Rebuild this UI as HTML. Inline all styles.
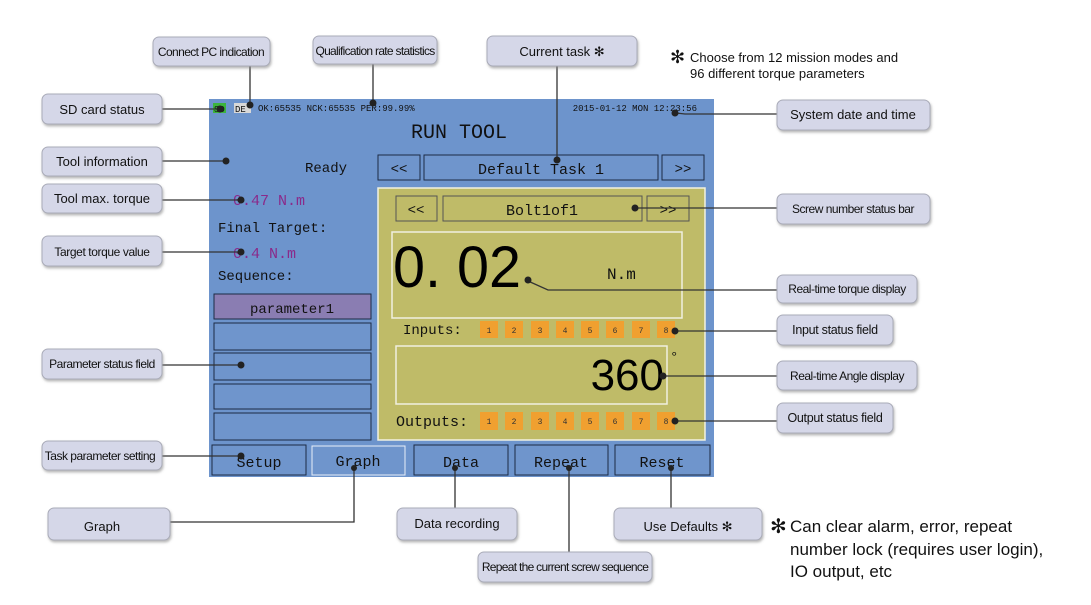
<!DOCTYPE html>
<html><head><meta charset="utf-8"><style>
html,body{margin:0;padding:0;background:#fff;width:1091px;height:605px;overflow:hidden}
svg{display:block}
.lb{fill:#d5d7e8;stroke:#a9abb8;stroke-width:1}
.lt{font-family:"Liberation Sans",sans-serif;font-size:13px;fill:#111;text-anchor:middle}
.ln{stroke:#333;stroke-width:1.3;fill:none}
.m{font-family:"Liberation Mono",monospace;fill:#111}
.bt{fill:#6f95cc;stroke:#1c2a44;stroke-width:1}
.yb{fill:#bfbb68;stroke:#555;stroke-width:1}
.sq{fill:#f0a030}
.sn{font-family:"Liberation Mono",monospace;font-size:8px;fill:#333;text-anchor:middle}
</style></head><body>
<svg width="1091" height="605" viewBox="0 0 1091 605">
<defs><filter id="sh" x="-10%" y="-20%" width="120%" height="150%"><feDropShadow dx="1" dy="2" stdDeviation="1.2" flood-color="#888" flood-opacity="0.6"/></filter></defs>

<!-- screen -->
<rect x="209" y="99" width="505" height="378" fill="#6d94cc"/>
<rect x="378" y="188" width="327" height="252" fill="#bfbb68" stroke="#f2f2e0" stroke-width="1.5"/>
<!-- status line -->
<rect x="213" y="103" width="13" height="10" fill="#3cb43c"/>
<text x="214" y="112" class="m" font-size="9">SD</text>
<rect x="234" y="103" width="17" height="10" fill="#d8d8d8"/>
<text x="235" y="112" class="m" font-size="9">DE</text>
<text x="258" y="111" class="m" font-size="9" fill="#222">OK:65535 NCK:65535 PER:99.99%</text>
<text x="697" y="111" class="m" font-size="9" text-anchor="end">2015-01-12 MON 12:23:56</text>
<text x="459" y="138" class="m" font-size="20" text-anchor="middle">RUN TOOL</text>
<text x="305" y="172" class="m" font-size="14">Ready</text>
<rect x="378" y="155" width="42" height="25" class="bt"/><text x="399" y="173" class="m" font-size="14" text-anchor="middle">&lt;&lt;</text>
<rect x="424" y="155" width="234" height="25" class="bt"/><text x="541" y="174" class="m" font-size="15" text-anchor="middle">Default Task 1</text>
<rect x="662" y="155" width="42" height="25" class="bt"/><text x="683" y="173" class="m" font-size="14" text-anchor="middle">&gt;&gt;</text>
<text x="233" y="205" class="m" font-size="15" fill="#8a2a8a" style="fill:#8a2a8a">0.47 N.m</text>
<text x="218" y="232" class="m" font-size="14">Final Target:</text>
<text x="233" y="258" class="m" font-size="15" style="fill:#8a2a8a">0.4 N.m</text>
<text x="218" y="280" class="m" font-size="14">Sequence:</text>
<rect x="214" y="294" width="157" height="25" fill="#8a7db2" stroke="#1c2a44"/>
<text x="292" y="313" class="m" font-size="14" text-anchor="middle">parameter1</text>
<rect x="214" y="323" width="157" height="27" class="bt"/>
<rect x="214" y="353" width="157" height="27" class="bt"/>
<rect x="214" y="384" width="157" height="25" class="bt"/>
<rect x="214" y="413" width="157" height="27" class="bt"/>
<!-- yellow inner -->
<rect x="396" y="196" width="41" height="25" class="yb"/><text x="416" y="214" class="m" font-size="14" text-anchor="middle">&lt;&lt;</text>
<rect x="443" y="196" width="199" height="25" class="yb"/><text x="542" y="215" class="m" font-size="15" text-anchor="middle">Bolt1of1</text>
<rect x="647" y="196" width="42" height="25" class="yb"/><text x="668" y="214" class="m" font-size="14" text-anchor="middle">&gt;&gt;</text>
<rect x="392" y="232" width="290" height="86" fill="none" stroke="#f0f0e0" stroke-width="1.5"/>
<text x="393" y="287" font-family="Liberation Sans,sans-serif" font-size="58" fill="#000" textLength="128" lengthAdjust="spacingAndGlyphs">0. 02</text>
<text x="607" y="279" class="m" font-size="16">N.m</text>
<text x="403" y="334" class="m" font-size="14" fill="#222">Inputs:</text>
<rect x="396" y="346" width="271" height="58" fill="none" stroke="#f0f0e0" stroke-width="1.5"/>
<text x="664" y="390" font-family="Liberation Sans,sans-serif" font-size="44" fill="#000" text-anchor="end">360</text>
<text x="670" y="361" class="m" font-size="14">°</text>
<text x="396" y="426" class="m" font-size="15">Outputs:</text>
<g>
<rect class="sq" x="480" y="321" width="18" height="17"/><rect class="sq" x="505" y="321" width="18" height="17"/><rect class="sq" x="531" y="321" width="18" height="17"/><rect class="sq" x="556" y="321" width="18" height="17"/><rect class="sq" x="581" y="321" width="18" height="17"/><rect class="sq" x="606" y="321" width="18" height="17"/><rect class="sq" x="632" y="321" width="18" height="17"/><rect class="sq" x="657" y="321" width="18" height="17"/>
<text class="sn" x="489" y="333">1</text><text class="sn" x="514" y="333">2</text><text class="sn" x="540" y="333">3</text><text class="sn" x="565" y="333">4</text><text class="sn" x="590" y="333">5</text><text class="sn" x="615" y="333">6</text><text class="sn" x="641" y="333">7</text><text class="sn" x="666" y="333">8</text>
<rect class="sq" x="480" y="412" width="18" height="18"/><rect class="sq" x="505" y="412" width="18" height="18"/><rect class="sq" x="531" y="412" width="18" height="18"/><rect class="sq" x="556" y="412" width="18" height="18"/><rect class="sq" x="581" y="412" width="18" height="18"/><rect class="sq" x="606" y="412" width="18" height="18"/><rect class="sq" x="632" y="412" width="18" height="18"/><rect class="sq" x="657" y="412" width="18" height="18"/>
<text class="sn" x="489" y="424">1</text><text class="sn" x="514" y="424">2</text><text class="sn" x="540" y="424">3</text><text class="sn" x="565" y="424">4</text><text class="sn" x="590" y="424">5</text><text class="sn" x="615" y="424">6</text><text class="sn" x="641" y="424">7</text><text class="sn" x="666" y="424">8</text>
</g>
<!-- bottom buttons -->
<rect x="212" y="445" width="94" height="30" class="bt"/><text x="259" y="467" class="m" font-size="15" text-anchor="middle">Setup</text>
<rect x="312" y="446" width="93" height="29" class="bt" style="stroke:#e8eef8"/><text x="358" y="466" class="m" font-size="15" text-anchor="middle">Graph</text>
<rect x="414" y="445" width="94" height="30" class="bt"/><text x="461" y="467" class="m" font-size="15" text-anchor="middle">Data</text>
<rect x="515" y="445" width="93" height="30" class="bt"/><text x="561" y="467" class="m" font-size="15" text-anchor="middle">Repeat</text>
<rect x="615" y="445" width="95" height="30" class="bt"/><text x="662" y="467" class="m" font-size="15" text-anchor="middle">Reset</text>

<!-- connector lines -->
<g class="ln">
<path d="M162 109H220"/><path d="M250 66V105"/><path d="M373 64V103"/><path d="M557 66V160"/>
<path d="M676 113L685 114H777"/><path d="M162 161H226"/><path d="M162 200H241"/><path d="M162 252H241"/>
<path d="M637 208H777"/><path d="M528 281L548 290H777"/><path d="M675 331H777"/><path d="M162 365H241"/>
<path d="M663 376H777"/><path d="M675 421H777"/><path d="M162 456H241"/>
<path d="M354 468V522H170"/><path d="M455 468V508"/><path d="M569 468V552"/><path d="M671 468V508"/>
</g>
<g fill="#222">
<circle cx="220" cy="109" r="3.5"/><circle cx="250" cy="105" r="3.5"/><circle cx="373" cy="103" r="3.5"/><circle cx="557" cy="160" r="3.5"/>
<circle cx="675" cy="113" r="3.5"/><circle cx="226" cy="161" r="3.5"/><circle cx="241" cy="200" r="3.5"/><circle cx="241" cy="252" r="3.5"/>
<circle cx="635" cy="208" r="3.5"/><circle cx="528" cy="280" r="3.5"/><circle cx="675" cy="331" r="3.5"/><circle cx="241" cy="365" r="3.5"/>
<circle cx="663" cy="376" r="3.5"/><circle cx="675" cy="421" r="3.5"/><circle cx="241" cy="456" r="3.5"/>
<circle cx="354" cy="468" r="3"/><circle cx="455" cy="468" r="3"/><circle cx="569" cy="468" r="3"/><circle cx="671" cy="468" r="3"/>
</g>

<!-- labels -->
<g filter="url(#sh)">
<rect class="lb" x="153" y="37" width="117" height="29" rx="6"/>
<rect class="lb" x="313" y="36" width="124" height="28" rx="6"/>
<rect class="lb" x="487" y="36" width="150" height="30" rx="6"/>
<rect class="lb" x="42" y="94" width="120" height="30" rx="6"/>
<rect class="lb" x="777" y="100" width="153" height="30" rx="6"/>
<rect class="lb" x="42" y="147" width="120" height="29" rx="6"/>
<rect class="lb" x="42" y="184" width="120" height="29" rx="6"/>
<rect class="lb" x="42" y="236" width="120" height="30" rx="6"/>
<rect class="lb" x="777" y="194" width="153" height="30" rx="6"/>
<rect class="lb" x="777" y="275" width="140" height="28" rx="6"/>
<rect class="lb" x="777" y="315" width="116" height="30" rx="6"/>
<rect class="lb" x="42" y="349" width="120" height="30" rx="6"/>
<rect class="lb" x="777" y="361" width="140" height="29" rx="6"/>
<rect class="lb" x="777" y="403" width="116" height="30" rx="6"/>
<rect class="lb" x="42" y="441" width="120" height="29" rx="6"/>
<rect class="lb" x="48" y="508" width="122" height="32" rx="6"/>
<rect class="lb" x="397" y="508" width="120" height="32" rx="6"/>
<rect class="lb" x="478" y="552" width="174" height="30" rx="6"/>
<rect class="lb" x="614" y="508" width="148" height="32" rx="6"/>
</g>
<g class="lt">
<text x="211" y="56" font-size="12" letter-spacing="-0.6">Connect PC indication</text>
<text x="375" y="55" font-size="12" letter-spacing="-0.7">Qualification rate statistics</text>
<text x="562" y="56" font-size="13">Current task ✻</text>
<text x="102" y="114">SD card status</text>
<text x="853" y="119">System date and time</text>
<text x="102" y="166">Tool information</text>
<text x="102" y="203">Tool max. torque</text>
<text x="102" y="256" font-size="12" letter-spacing="-0.4">Target torque value</text>
<text x="853" y="213" font-size="12" letter-spacing="-0.5">Screw number status bar</text>
<text x="847" y="293" font-size="12" letter-spacing="-0.5">Real-time torque display</text>
<text x="835" y="334" font-size="12.5" letter-spacing="-0.3">Input status field</text>
<text x="102" y="368" font-size="12" letter-spacing="-0.5">Parameter status field</text>
<text x="847" y="380" font-size="12" letter-spacing="-0.5">Real-time Angle display</text>
<text x="835" y="422" font-size="12.5" letter-spacing="-0.3">Output status field</text>
<text x="100" y="460" font-size="12" letter-spacing="-0.5">Task parameter setting</text>
<text x="102" y="531">Graph</text>
<text x="457" y="528">Data recording</text>
<text x="565" y="571" font-size="12" letter-spacing="-0.7">Repeat the current screw sequence</text>
<text x="688" y="531">Use Defaults ✻</text>
</g>
<g font-family="Liberation Sans,sans-serif" fill="#111">
<text x="670" y="63" font-size="18">✻</text>
<text x="690" y="62" font-size="13">Choose from 12 mission modes and</text>
<text x="690" y="78" font-size="13">96 different torque parameters</text>
<text x="770" y="533" font-size="20">✻</text>
<text x="790" y="532" font-size="17">Can clear alarm, error, repeat</text>
<text x="790" y="555" font-size="17">number lock (requires user login),</text>
<text x="790" y="577" font-size="17">IO output, etc</text>
</g>
</svg>
</body></html>
